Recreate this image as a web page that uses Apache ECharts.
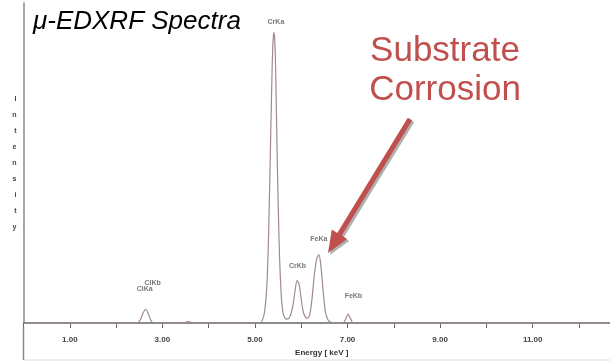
<!DOCTYPE html>
<html>
<head>
<meta charset="utf-8">
<script src="https://cdn.jsdelivr.net/npm/echarts@6/dist/echarts.min.js"></script>
<style>html,body{margin:0;padding:0;background:#fff}#c{width:610px;height:362px}</style>
</head>
<body>
<div id="c"></div>
<script>
// Spectrum energies (keV) and intensities
var energy = [0.0, 2.45, 2.52, 2.58, 2.64, 2.70, 2.76, 2.82, 3.45, 3.55, 3.65, 3.75,
  5.10, 5.16, 5.21, 5.26, 5.30, 5.34, 5.37, 5.39, 5.41, 5.43, 5.45, 5.48, 5.52, 5.56, 5.60, 5.65,
  5.70, 5.76, 5.82, 5.87, 5.91, 5.95, 5.99, 6.04, 6.09, 6.14, 6.19, 6.24, 6.29, 6.34, 6.38, 6.42, 6.47, 6.52, 6.57, 6.63, 6.70,
  6.90, 6.96, 7.01, 7.07, 7.13, 12.7];
var intensity = [0, 0, 3, 10, 14, 9, 2, 0, 0, 1.5, 0.5, 0,
  0, 3, 12, 40, 100, 190, 255, 285, 294, 285, 250, 170, 85, 35, 12, 5,
  4, 7, 18, 34, 43, 40, 28, 12, 6, 5, 10, 28, 52, 66, 69, 60, 34, 12, 4, 1, 0,
  0, 4, 9, 4, 0, 0];
var peakNames = ["CrKa", "CrKb", "FeKa", "FeKb", "ClKa", "ClKb"];
var peakEnergy = [5.41, 5.92, 6.38, 7.04, 2.62, 2.79];
var peakHeight = [294, 43, 69, 9, 14, 14];
var tickLabels = ["1.00", "3.00", "5.00", "7.00", "9.00", "11.00"];
var titleText = "\u03bc-EDXRF Spectra";
var noteText = "Substrate\nCorrosion";

var lineData = energy.map(function (e, i) { return [e, intensity[i]]; });
var labelOffsets = { CrKa: [2, -11], CrKb: [0, -15], FeKa: [0, -16], FeKb: [4, -18], ClKa: [0, -20], ClKb: [0, -26] };
var peakData = peakNames.map(function (n, i) {
  return { value: [peakEnergy[i], peakHeight[i]], name: n,
    label: { offset: labelOffsets[n] } };
});

// arrow geometry
var tail = [410, 119], tip = [328, 253];
var dx = tip[0] - tail[0], dy = tip[1] - tail[1], L = Math.sqrt(dx * dx + dy * dy);
var ux = dx / L, uy = dy / L, nx = -uy, ny = ux;
var hl = 22, hw = 9, sw = 2.6;
var bx = tip[0] - hl * ux, by = tip[1] - hl * uy;
var arrowPts = [
  [tail[0] + sw * nx, tail[1] + sw * ny],
  [bx + sw * nx, by + sw * ny],
  [bx + hw * nx, by + hw * ny],
  tip,
  [bx - hw * nx, by - hw * ny],
  [bx - sw * nx, by - sw * ny],
  [tail[0] - sw * nx, tail[1] - sw * ny]
];
var shadowPts = arrowPts.map(function (p) { return [p[0] + 2, p[1] + 2]; });

var chart = echarts.init(document.getElementById('c'), null, { renderer: 'canvas' });
chart.setOption({
  animation: false,
  backgroundColor: '#fff',
  grid: { left: 23.5, right: 0, top: 3, bottom: 35, containLabel: false },
  xAxis: {
    type: 'value', min: 0, max: 12.67, interval: 1,
    name: 'Energy [ keV ]', nameLocation: 'middle', nameGap: 22,
    nameTextStyle: { fontFamily: 'Liberation Sans', fontSize: 8, fontWeight: 'bold', color: '#333', padding: [0, 0, 0, 10] },
    axisLine: { lineStyle: { color: '#666', width: 1.5 } },
    axisTick: { show: true, length: 5, lineStyle: { color: '#666', width: 1 } },
    splitLine: { show: false },
    axisLabel: {
      margin: 13, fontFamily: 'Liberation Sans', fontSize: 8, fontWeight: 'bold', color: '#444',
      showMaxLabel: false,
      formatter: function (v) {
        var s = v.toFixed(2);
        return tickLabels.indexOf(s) >= 0 ? s : '';
      }
    }
  },
  yAxis: {
    type: 'value', min: 0, max: 324,
    name: 'I\nn\nt\ne\nn\ns\ni\nt\ny', nameLocation: 'middle', nameRotate: 0, nameGap: 7,
    nameTextStyle: { fontFamily: 'Liberation Sans', fontSize: 7, fontWeight: 'bold', color: '#444', lineHeight: 16, padding: [0, 0, 40, 0] },
    axisLine: { show: true, lineStyle: { color: '#888', width: 1.5 } },
    axisTick: { show: false },
    axisLabel: { show: false },
    splitLine: { show: false }
  },
  series: [
    {
      type: 'line', data: lineData, showSymbol: false, smooth: 0.3,
      lineStyle: { color: '#a08a8c', width: 1.2 }
    },
    {
      type: 'scatter', data: peakData, symbolSize: 0,
      label: {
        show: true, position: 'inside', formatter: '{b}',
        fontFamily: 'Liberation Sans', fontSize: 7, fontWeight: 'bold', color: '#555'
      }
    }
  ],
  graphic: [
    { type: 'line', z: 50, shape: { x1: 23.5, y1: 327, x2: 23.5, y2: 360 }, style: { stroke: '#888', lineWidth: 1.5 } },
    { type: 'line', z: 50, shape: { x1: 23.5, y1: 360, x2: 610, y2: 360 }, style: { stroke: '#ddd', lineWidth: 1 } },
    { type: 'text', z: 100, left: 33, top: 9, style: { text: titleText, font: 'italic 26px "Liberation Sans"', fill: '#000' } },
    { type: 'text', z: 100, x: 445, y: 32, style: { text: noteText, font: '35px "Liberation Sans"', fill: '#c0504d', textAlign: 'center', lineHeight: 39 } },
    { type: 'polygon', z: 99, shape: { points: shadowPts }, style: { fill: 'rgba(80,80,80,0.45)' } },
    { type: 'polygon', z: 100, shape: { points: arrowPts }, style: { fill: '#c0504d' } }
  ]
});
</script>
</body>
</html>
